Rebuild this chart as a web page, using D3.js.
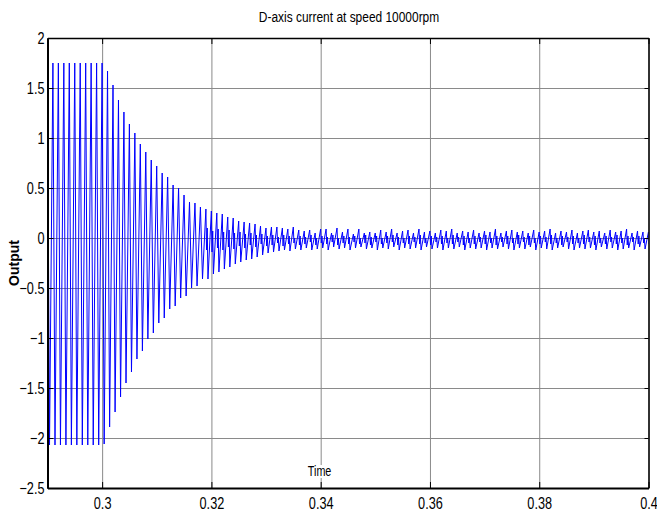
<!DOCTYPE html>
<html>
<head>
<meta charset="utf-8">
<script src="https://cdn.jsdelivr.net/npm/d3@7"></script>
<style>
  body { margin: 0; background: #fff; }
  text { font-family: 'Liberation Sans', Arial, sans-serif; fill: #000; }
</style>
</head>
<body>
<script>
const width = 657;
const height = 512;
const squeeze = 0.77; // the original uses a condensed face

// x ticks / y ticks
const xTicks = [0.3, 0.32, 0.34, 0.36, 0.38, 0.4];
const yTicks = [-2.5, -2, -1.5, -1, -0.5, 0, 0.5, 1, 1.5, 2];

// one trough and one peak per cycle, cycles spaced 1 ms apart
const firstTrough = 0.29037;
const firstPeak = 0.29099;
const period = 0.001;

const peaks = [
  1.75, 1.75, 1.75, 1.75, 1.75, 1.75, 1.75, 1.75, 1.75, 1.75,
  1.67, 1.53, 1.38, 1.26, 1.14, 1.05, 0.94, 0.86, 0.78, 0.72,
  0.65, 0.61, 0.53, 0.50, 0.43, 0.36, 0.35, 0.31, 0.29, 0.27,
  0.25, 0.24, 0.21, 0.20, 0.17, 0.16, 0.15, 0.14, 0.12, 0.10,
  0.11, 0.11, 0.10, 0.09, 0.11, 0.08, 0.07, 0.08, 0.05, 0.09,
  0.09, 0.05, 0.10, 0.06, 0.09, 0.04, 0.09, 0.05, 0.06, 0.05,
  0.08, 0.06, 0.09, 0.05, 0.07, 0.08, 0.05, 0.09, 0.06, 0.07,
  0.05, 0.08, 0.07, 0.09, 0.05, 0.07, 0.06, 0.08, 0.05, 0.07,
  0.06, 0.09, 0.05, 0.07, 0.08, 0.06, 0.07, 0.05, 0.08, 0.06,
  0.07, 0.09, 0.05, 0.07, 0.06, 0.08, 0.05, 0.07, 0.08, 0.06,
  0.07, 0.05, 0.08, 0.06, 0.07, 0.09, 0.05, 0.07, 0.06, 0.06
];

const troughs = [
  -2.07, -2.07, -2.07, -2.07, -2.07, -2.07, -2.07, -2.07, -2.07, -2.07,
  -2.06, -1.89, -1.74, -1.59, -1.45, -1.34, -1.21, -1.13, -1.01, -0.95,
  -0.85, -0.80, -0.71, -0.68, -0.60, -0.58, -0.50, -0.48, -0.41, -0.41,
  -0.36, -0.34, -0.31, -0.29, -0.26, -0.24, -0.22, -0.21, -0.19, -0.17,
  -0.15, -0.14, -0.13, -0.12, -0.13, -0.11, -0.12, -0.10, -0.12, -0.11,
  -0.10, -0.12, -0.09, -0.11, -0.10, -0.12, -0.10, -0.09, -0.11, -0.10,
  -0.12, -0.10, -0.11, -0.09, -0.12, -0.10, -0.11, -0.10, -0.12, -0.09,
  -0.11, -0.10, -0.12, -0.10, -0.11, -0.09, -0.12, -0.10, -0.11, -0.10,
  -0.12, -0.10, -0.11, -0.09, -0.11, -0.12, -0.10, -0.11, -0.09, -0.12,
  -0.10, -0.11, -0.12, -0.10, -0.09, -0.11, -0.12, -0.10, -0.11, -0.10,
  -0.12, -0.09, -0.11, -0.10, -0.12, -0.11, -0.10, -0.12, -0.09, -0.11
];

// small ripple after each peak once the transient has died down (cycle 28 onwards)
const notchStart = 28;
const notchLo = [
  -0.12, -0.14, -0.10, -0.12, -0.09, -0.11, -0.08, -0.10, -0.07, -0.09,
  -0.06, -0.08, -0.07, -0.05, -0.08, -0.06, -0.05, -0.07, -0.06, -0.04,
  -0.07, -0.05, -0.06, -0.04, -0.07, -0.05, -0.06, -0.04, -0.06, -0.05,
  -0.07, -0.04, -0.06, -0.05, -0.04, -0.07, -0.05, -0.06, -0.04, -0.06,
  -0.05, -0.07, -0.04, -0.06, -0.05, -0.06, -0.04, -0.07, -0.05, -0.06,
  -0.04, -0.06, -0.05, -0.07, -0.04, -0.06, -0.05, -0.06, -0.04, -0.07,
  -0.05, -0.06, -0.04, -0.06, -0.05, -0.07, -0.04, -0.06, -0.05, -0.06,
  -0.04, -0.07, -0.05, -0.06, -0.04, -0.06, -0.05, -0.07, -0.04, -0.06,
  -0.05, -0.06
];
const notchHi = [
  0.10, 0.07, 0.09, 0.06, 0.08, 0.05, 0.06, 0.04, 0.05, 0.03,
  0.04, 0.02, 0.03, 0.01, 0.03, 0.02, 0.00, 0.02, 0.01, 0.03,
  0.00, 0.02, 0.01, 0.03, 0.00, 0.02, 0.01, 0.02, 0.00, 0.03,
  0.01, 0.02, 0.00, 0.02, 0.03, 0.01, 0.00, 0.02, 0.01, 0.03,
  0.00, 0.02, 0.01, 0.02, 0.00, 0.03, 0.01, 0.02, 0.00, 0.02,
  0.01, 0.03, 0.00, 0.02, 0.01, 0.02, 0.00, 0.03, 0.01, 0.02,
  0.00, 0.02, 0.01, 0.03, 0.00, 0.02, 0.01, 0.02, 0.00, 0.03,
  0.01, 0.02, 0.00, 0.02, 0.01, 0.03, 0.00, 0.02, 0.01, 0.02,
  0.00, 0.02
];

// build the trace
var data = [{ t: firstPeak - period, v: peaks[0] }];
peaks.forEach((p, k) => {
  var tT = firstTrough + k * period;
  var tP = firstPeak + k * period;
  data.push({ t: tT, v: troughs[k] });
  data.push({ t: tP, v: p });
  if (k >= notchStart) {
    data.push({ t: tP + 0.00012, v: notchLo[k - notchStart] });
    data.push({ t: tP + 0.00025, v: notchHi[k - notchStart] });
  }
});

const plotLeft = 47.5, plotRight = 648.5, plotTop = 38, plotBottom = 488;

var xScale = d3.scaleLinear().domain([0.29, 0.4]).range([plotLeft, plotRight]);
var yScale = d3.scaleLinear().domain([-2.5, 2]).range([plotBottom, plotTop]);

const svg = d3.select('body')
  .append('svg')
  .attr('width', width)
  .attr('height', height);

// grid
svg.append('g')
  .attr('class', 'grid')
  .attr('transform', `translate(0, ${plotBottom})`)
  .call(d3.axisBottom(xScale).tickValues(xTicks).tickSize(-(plotBottom - plotTop)).tickFormat(''))
  .call(g => g.select('.domain').remove());

svg.append('g')
  .attr('class', 'grid')
  .attr('transform', `translate(${plotLeft}, 0)`)
  .call(d3.axisLeft(yScale).tickValues(yTicks).tickSize(-(plotRight - plotLeft)).tickFormat(''))
  .call(g => g.select('.domain').remove());

svg.selectAll('.grid line')
  .attr('stroke', '#8a8a8a')
  .attr('stroke-width', 1);

// trace
svg.append('clipPath')
  .attr('id', 'clip')
  .append('rect')
  .attr('x', plotLeft)
  .attr('y', plotTop)
  .attr('width', plotRight - plotLeft)
  .attr('height', plotBottom - plotTop);

svg.append('path')
  .datum(data)
  .attr('clip-path', 'url(#clip)')
  .attr('fill', 'none')
  .attr('stroke', '#0000ff')
  .attr('stroke-width', 1)
  .attr('d', d3.line().x(d => xScale(d.t)).y(d => yScale(d.v)));

// "Time" label sits inside the plot with a white background
var timeLabel = svg.append('g')
  .attr('transform', `translate(${xScale(0.3398)}, 476)`);
timeLabel.append('rect')
  .attr('x', -14).attr('y', -11).attr('width', 28).attr('height', 13)
  .attr('fill', '#fff');
timeLabel.append('text')
  .attr('text-anchor', 'middle')
  .attr('transform', `scale(${squeeze}, 1)`)
  .style('font-size', '14px')
  .text('Time');

// axes
var xAxis = d3.axisBottom(xScale).tickValues(xTicks).tickSizeInner(-6).tickSizeOuter(0)
  .tickPadding(9).tickFormat(d3.format('~g'));
var yAxis = d3.axisLeft(yScale).tickValues(yTicks).tickSizeInner(-6).tickSizeOuter(0)
  .tickPadding(3).tickFormat(d3.format('~g'));

svg.append('g')
  .attr('transform', `translate(0, ${plotTop})`)
  .call(d3.axisTop(xScale).tickValues(xTicks).tickSizeInner(-6).tickSizeOuter(0).tickFormat(''))
  .call(g => g.select('.domain').attr('stroke-width', 1.5));

svg.append('g')
  .attr('transform', `translate(${plotRight}, 0)`)
  .call(d3.axisRight(yScale).tickValues(yTicks).tickSizeInner(-4).tickSizeOuter(0).tickFormat(''))
  .call(g => g.select('.domain').attr('stroke-width', 1.5));

svg.append('g')
  .attr('id', 'x-axis')
  .attr('transform', `translate(0, ${plotBottom})`)
  .call(xAxis)
  .call(g => g.select('.domain').attr('stroke-width', 2));

svg.append('g')
  .attr('id', 'y-axis')
  .attr('transform', `translate(${plotLeft}, 0)`)
  .call(yAxis)
  .call(g => g.select('.domain').attr('stroke-width', 2));

svg.selectAll('#x-axis text, #y-axis text')
  .style('font-size', '16.5px')
  .style('font-family', "'Liberation Sans', Arial, sans-serif")
  .attr('transform', `scale(${squeeze}, 1)`);

svg.selectAll('#y-axis text')
  .attr('x', -3 / squeeze);

// title and y label
svg.append('text')
  .attr('transform', `translate(${(plotLeft + plotRight) / 2 + 1}, 22) scale(${squeeze}, 1)`)
  .attr('text-anchor', 'middle')
  .style('font-size', '15.5px')
  .text('D-axis current at speed 10000rpm');

svg.append('text')
  .attr('transform', `translate(19, 263) rotate(-90)`)
  .attr('text-anchor', 'middle')
  .style('font-size', '14px')
  .style('font-weight', 'bold')
  .text('Output');
</script>
</body>
</html>
